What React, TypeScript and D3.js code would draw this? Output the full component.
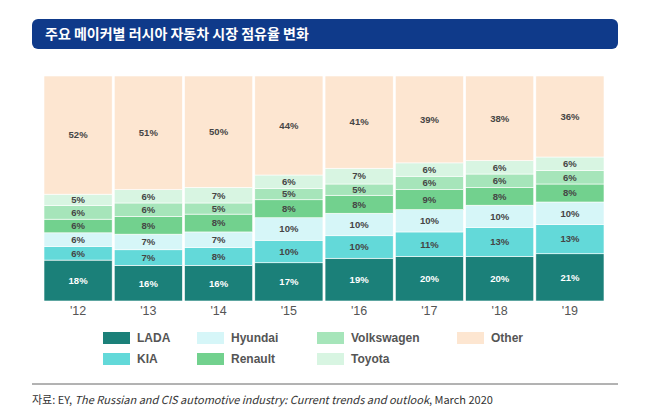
import * as d3 from 'd3'

// Share of the Russian car market by maker, bottom to top of each stack
const YEARS = ["'12", "'13", "'14", "'15", "'16", "'17", "'18", "'19"]
const MAKERS = ['LADA', 'KIA', 'Hyundai', 'Renault', 'Volkswagen', 'Toyota', 'Other']
const LADA = [18, 16, 16, 17, 19, 20, 20, 21]
const KIA = [6, 7, 8, 10, 10, 11, 13, 13]
const HYUNDAI = [6, 7, 7, 10, 10, 10, 10, 10]
const RENAULT = [6, 8, 8, 8, 8, 9, 8, 8]
const VOLKSWAGEN = [6, 6, 5, 5, 5, 6, 6, 6]
const TOYOTA = [5, 6, 7, 6, 7, 6, 6, 6]
const OTHER = [52, 51, 50, 44, 41, 39, 38, 36]
const SERIES = [LADA, KIA, HYUNDAI, RENAULT, VOLKSWAGEN, TOYOTA, OTHER]

const COLORS = ['#1b8079', '#63d9d9', '#d6f6f8', '#72d18e', '#a6e5ba', '#d8f5e2', '#fde6d1']
// legend order as in the original (two rows)
const LEGEND_ROWS = [
  ['LADA', 'Hyundai', 'Volkswagen', 'Other'],
  ['KIA', 'Renault', 'Toyota'],
]

const W = 647
const H = 419
const left = 44
const right = 604
const top = 76
const bottom = 301

export default function App() {
  const rows = YEARS.map((y, i) => {
    const r: Record<string, number | string> = { year: y }
    MAKERS.forEach((m, k) => (r[m] = SERIES[k][i]))
    return r
  })

  const stack = d3.stack<any>().keys(MAKERS).offset(d3.stackOffsetExpand)
  const layers = stack(rows)

  const x = d3.scaleBand().domain(YEARS).range([left, right]).paddingInner(0.03).paddingOuter(0)
  const y = d3.scaleLinear().domain([0, 1]).range([bottom, top])
  const color = d3.scaleOrdinal<string, string>().domain(MAKERS).range(COLORS)

  const legendX = [103, 197, 317, 457]
  const legendY = [338, 359]
  const font = "'Liberation Sans', Arial, sans-serif"

  return (
    <svg width={W} height={H} style={{ position: 'absolute', left: 0, top: 0, background: '#fff' }}>
      {/* title banner */}
      <rect x={32} y={19} width={586} height={30} rx={6} fill="#0f3a8a" />
      <text x={45} y={39} fill="#fff" fontSize={14} fontWeight={700}
        fontFamily="'Noto Sans CJK KR', sans-serif">주요 메이커별 러시아 자동차 시장 점유율 변화</text>

      {/* stacked bars */}
      {layers.map((layer) => (
        <g key={layer.key} fill={color(layer.key)}>
          {layer.map((d, i) => (
            <rect key={i} x={x(YEARS[i])} y={y(d[1])} width={x.bandwidth()}
              height={y(d[0]) - y(d[1])} stroke="#fff" strokeWidth={0.6} />
          ))}
        </g>
      ))}

      {/* value labels */}
      {layers.map((layer, k) => (
        <g key={'l' + layer.key}>
          {layer.map((d, i) => (
            <text key={i} x={x(YEARS[i])! + x.bandwidth() / 2} y={(y(d[0]) + y(d[1])) / 2}
              dy="0.35em" textAnchor="middle" fontSize={9.5} fontWeight={700} fontFamily={font}
              fill={layer.key === 'LADA' ? '#ffffff' : '#454545'}>
              {SERIES[k][i]}%
            </text>
          ))}
        </g>
      ))}

      {/* year labels */}
      {YEARS.map((yr) => (
        <text key={yr} x={x(yr)! + x.bandwidth() / 2} y={315} textAnchor="middle"
          fontSize={12.5} fontFamily={font} fill="#555">{yr}</text>
      ))}

      {/* legend */}
      {LEGEND_ROWS.map((row, r) =>
        row.map((m, c) => (
          <g key={m} transform={`translate(${legendX[c]},${legendY[r]})`}>
            <rect x={0} y={-6} width={27} height={12} fill={color(m)} />
            <text x={34} y={0} dy="0.35em" fontSize={12} fontWeight={700} fontFamily={font} fill="#555">{m}</text>
          </g>
        ))
      )}

      {/* source */}
      <line x1={32} x2={618} y1={384} y2={384} stroke="#666" strokeWidth={1} />
      <text x={32} y={404} fontSize={11} fontFamily="'Noto Sans CJK KR', sans-serif" fill="#333">
        자료: EY, <tspan fontStyle="italic">The Russian and CIS automotive industry: Current trends and outlook</tspan>, March 2020
      </text>
    </svg>
  )
}
